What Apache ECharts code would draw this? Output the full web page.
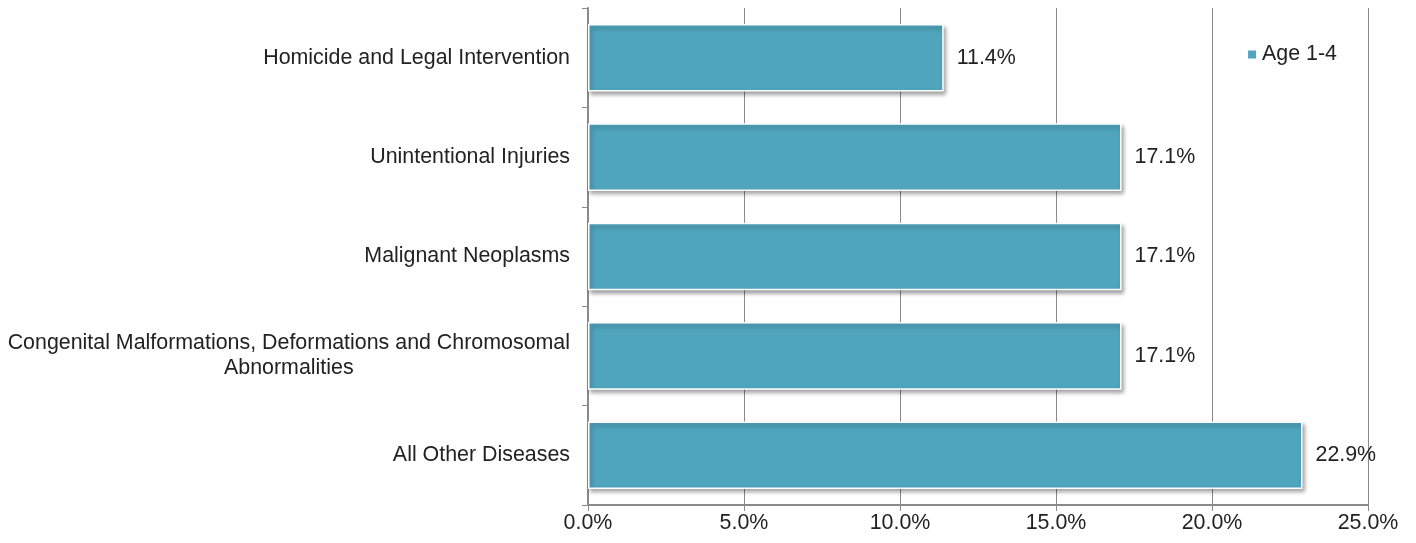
<!DOCTYPE html>
<html><head><meta charset="utf-8">
<script src="https://cdn.jsdelivr.net/npm/echarts@6/dist/echarts.min.js"></script>
<style>html,body{margin:0;padding:0;background:#fff}#c{width:1416px;height:543px}</style>
</head><body><div id="c"></div>
<script>
var categories = ["Homicide and Legal Intervention","Unintentional Injuries","Malignant Neoplasms","Congenital Malformations, Deformations and Chromosomal\nAbnormalities","All Other Diseases"];
var values = [11.4, 17.1, 17.1, 17.1, 22.9];
var seriesName = "Age 1-4";
var chart = echarts.init(document.getElementById('c'));
var F = "'Liberation Sans', Arial, Helvetica, sans-serif";
var FS = 21.4;
chart.setOption({
  animation: false,
  grid: {left: 588, right: 48, top: 8, bottom: 38, containLabel: false},
  legend: {
    data: [seriesName], right: 74, top: 39, icon: 'rect', itemWidth: 10, itemHeight: 10, itemGap: 6,
    textStyle: {fontFamily: F, fontSize: FS, color: '#222'}
  },
  xAxis: {
    type: 'value', min: 0, max: 25, interval: 5,
    axisLine: {show: true, lineStyle: {color: '#8a8a8a', width: 2}},
    axisTick: {show: true, length: 6, lineStyle: {color: '#8a8a8a', width: 1}},
    splitLine: {show: true, lineStyle: {color: '#8a8a8a', width: 1}},
    axisLabel: {formatter: function(v){return v.toFixed(1)+'%';}, fontFamily: F, fontSize: FS, color: '#222', margin: 8}
  },
  yAxis: {
    type: 'category', data: categories, inverse: true,
    axisLine: {show: true, lineStyle: {color: '#8a8a8a', width: 2}},
    axisTick: {show: true, length: 6, inside: false, lineStyle: {color: '#8a8a8a', width: 1}},
    axisLabel: {
      fontFamily: F, fontSize: FS, color: '#222', margin: 18, lineHeight: 25,
      formatter: function(v){
        var parts = v.split('\n');
        return parts.map(function(p){return '{c|'+p+'}';}).join('\n');
      },
      rich: {c: {fontFamily: F, fontSize: FS, color: '#222', align: 'center', lineHeight: 25}}
    }
  },
  series: [{
    name: seriesName, type: 'bar', data: values, barCategoryGap: '32%',
    itemStyle: {color: '#4fa5bd', borderColor: '#ffffff', borderWidth: 1.5,
      shadowBlur: 4, shadowOffsetX: 2, shadowOffsetY: 3, shadowColor: 'rgba(0,0,0,0.35)'},
    label: {show: true, position: 'right', distance: 13, formatter: function(p){return p.value.toFixed(1)+'%';},
      fontFamily: F, fontSize: FS, color: '#222'}
  }]
});
</script></body></html>
